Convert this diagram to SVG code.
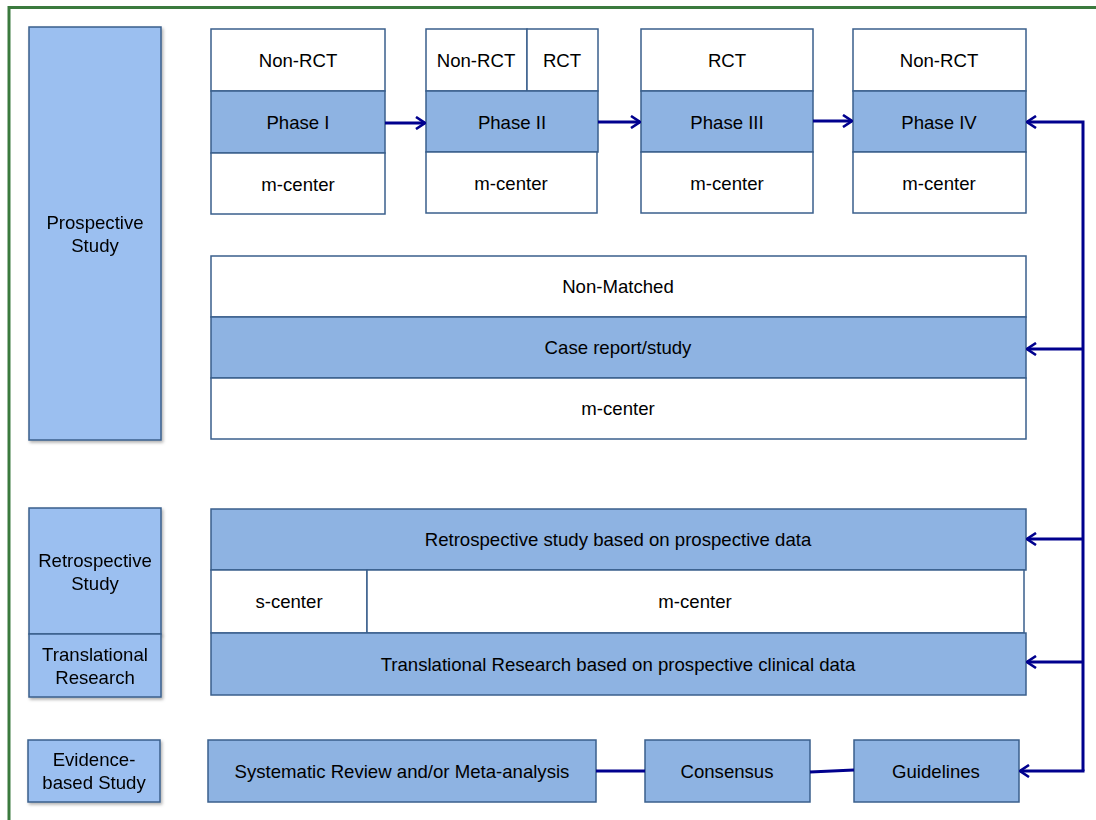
<svg xmlns="http://www.w3.org/2000/svg" width="1096" height="820" viewBox="0 0 1096 820">
<style>
text{font-family:"Liberation Sans",Arial,sans-serif;font-size:18.6px;fill:#000;text-anchor:middle}
.w{fill:#fff;stroke:#3a5f8c;stroke-width:1.5}
.b{fill:#8eb3e2;stroke:#3a5f8c;stroke-width:1.5}
.l{fill:#9bbff0;stroke:#3a5f8c;stroke-width:1.5}
.c{fill:none;stroke:#00008e;stroke-width:3}
</style>
<defs>
<marker id="ah" viewBox="0 0 11 14" refX="10" refY="7" markerWidth="11" markerHeight="14" markerUnits="userSpaceOnUse" orient="auto">
<path d="M1,1 L10,7 L1,13" fill="none" stroke="#00008e" stroke-width="2.6"/>
</marker>
<filter id="sh" x="-10%" y="-10%" width="130%" height="130%">
<feDropShadow dx="1.5" dy="2" stdDeviation="1.5" flood-color="#000" flood-opacity="0.3"/>
</filter>
</defs>
<rect width="1096" height="820" fill="#fff"/>
<path d="M9,820 V7.5 H1096" fill="none" stroke="#3b7a3e" stroke-width="3"/>

<g id="prospective" filter="url(#sh)"><rect class="l" x="29" y="27" width="132" height="413"/><text x="95" y="229">Prospective</text><text x="95" y="252">Study</text></g>
<g id="retrospective" filter="url(#sh)"><rect class="l" x="29" y="508" width="132" height="126"/><text x="95" y="567">Retrospective</text><text x="95" y="590">Study</text></g>
<g id="translational" filter="url(#sh)"><rect class="l" x="29" y="634" width="132" height="63"/><text x="95" y="661">Translational</text><text x="95" y="684">Research</text></g>
<g id="evidence" filter="url(#sh)"><rect class="l" x="28" y="740" width="132" height="62"/><text x="94" y="766">Evidence-</text><text x="94" y="789">based Study</text></g>

<g id="phase1">
<rect class="w" x="211" y="29" width="174" height="62"/><text x="298" y="67">Non-RCT</text>
<rect class="b" x="211" y="91" width="174" height="62"/><text x="298" y="129">Phase I</text>
<rect class="w" x="211" y="153" width="174" height="61"/><text x="298" y="191">m-center</text>
</g>
<g id="phase2">
<rect class="w" x="426" y="29" width="101" height="62"/><text x="476" y="67">Non-RCT</text>
<rect class="w" x="527" y="29" width="71" height="62"/><text x="562" y="67">RCT</text>
<rect class="b" x="426" y="91" width="172" height="61"/><text x="512" y="129">Phase II</text>
<rect class="w" x="426" y="152" width="171" height="61"/><text x="511" y="190">m-center</text>
</g>
<g id="phase3">
<rect class="w" x="641" y="29" width="172" height="62"/><text x="727" y="67">RCT</text>
<rect class="b" x="641" y="91" width="172" height="61"/><text x="727" y="129">Phase III</text>
<rect class="w" x="641" y="152" width="172" height="61"/><text x="727" y="190">m-center</text>
</g>
<g id="phase4">
<rect class="w" x="853" y="29" width="173" height="62"/><text x="939" y="67">Non-RCT</text>
<rect class="b" x="853" y="91" width="173" height="61"/><text x="939" y="129">Phase IV</text>
<rect class="w" x="853" y="152" width="173" height="61"/><text x="939" y="190">m-center</text>
</g>
<g id="case">
<rect class="w" x="211" y="256" width="815" height="61"/><text x="618" y="293">Non-Matched</text>
<rect class="b" x="211" y="317" width="815" height="61"/><text x="618" y="354">Case report/study</text>
<rect class="w" x="211" y="378" width="815" height="61"/><text x="618" y="415">m-center</text>
</g>
<g id="retro">
<rect class="b" x="211" y="509" width="815" height="61"/><text x="618" y="546">Retrospective study based on prospective data</text>
<rect class="w" x="211" y="570" width="156" height="63"/><text x="289" y="608">s-center</text>
<rect class="w" x="367" y="570" width="657" height="63"/><text x="695" y="608">m-center</text>
</g>
<g id="transl">
<rect class="b" x="211" y="633" width="815" height="62"/><text x="618" y="671">Translational Research based on prospective clinical data</text>
</g>
<g id="systematic"><rect class="b" x="208" y="740" width="388" height="62"/><text x="402" y="778">Systematic Review and/or Meta-analysis</text></g>
<g id="consensus"><rect class="b" x="645" y="740" width="165" height="62"/><text x="727" y="778">Consensus</text></g>
<g id="guidelines"><rect class="b" x="854" y="740" width="165" height="62"/><text x="936" y="778">Guidelines</text></g>

<g id="connectors">
<path class="c" d="M385,123 H425" marker-end="url(#ah)"/>
<path class="c" d="M598,122 H640" marker-end="url(#ah)"/>
<path class="c" d="M813,121 H852" marker-end="url(#ah)"/>
<path class="c" d="M1083,771 V122 H1027" marker-end="url(#ah)"/>
<path class="c" d="M1083,349 H1027" marker-end="url(#ah)"/>
<path class="c" d="M1083,539 H1027" marker-end="url(#ah)"/>
<path class="c" d="M1083,662 H1027" marker-end="url(#ah)"/>
<path class="c" d="M1084.5,771 H1020" marker-end="url(#ah)"/>
<path class="c" d="M596,771 H645"/>
<path class="c" d="M810,772 L854,770"/>
</g>
</svg>
